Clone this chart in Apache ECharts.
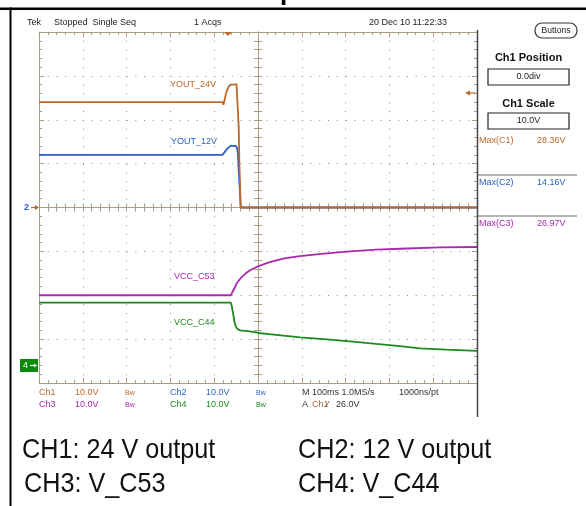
<!DOCTYPE html>
<html>
<head>
<meta charset="utf-8">
<script src="https://cdn.jsdelivr.net/npm/echarts@6/dist/echarts.min.js"></script>
<style>
html, body { margin: 0; padding: 0; background: #fff; }
#scope { width: 586px; height: 506px; }
</style>
</head>
<body>
<div id="scope"></div>
<script>
// scope capture, time in ms from screen centre, values in volts
var ch1Time = [-500, -81, -79, -76, -73, -70, -67, -63, -60, -57, -53, -49, -47.3, -44, -42.7, -39.5, 500];
var ch1Volt = [24.0, 24.0, 23.4, 24.6, 26.0, 26.9, 27.5, 28.0, 28.4, 28.0, 28.3, 28.1, 28.0, 18.3, 10.7, 0, 0];

var ch2Time = [-500, -81, -78, -75, -71, -67, -62, -56, -51, -48, -46, -45, -43, -41, -39.5, 500];
var ch2Volt = [12.0, 12.0, 12.3, 12.8, 13.3, 13.7, 14.1, 14.0, 14.1, 13.6, 12.5, 10.1, 6.5, 3.2, 0, 0];

var ch3Time = [-500, -62, -59, -56, -52, -48, -42, -37, -28, -18, 0, 20, 35, 60, 96, 150, 210, 270, 324, 416, 500];
var ch3Volt = [16.0, 16.0, 16.6, 17.2, 18.0, 18.8, 19.6, 20.2, 21.0, 21.7, 22.6, 23.3, 23.8, 24.4, 24.9, 25.5, 26.0, 26.4, 26.6, 26.9, 27.0];

var ch4Time = [-500, -62, -60, -58, -56, -54, -52, -50, -47, -41, -18, 1, 20, 58, 96, 150, 210, 270, 324, 370, 430, 500];
var ch4Volt = [14.3, 14.3, 13.6, 12.4, 11.4, 10.0, 9.3, 8.8, 8.3, 8.0, 7.75, 7.4, 7.2, 6.8, 6.4, 6.0, 5.5, 4.9, 4.4, 3.9, 3.6, 3.3];

var traceNames = ['YOUT_24V', 'YOUT_12V', 'VCC_C53', 'VCC_C44'];
var maxLabels = ['Max(C1)', 'Max(C2)', 'Max(C3)'];
var maxValues = ['28.36V', '14.16V', '26.97V'];

var ORANGE = '#b9692c';
var BLUE = '#2b62c4';
var MAGENTA = '#aa28b0';
var GREEN = '#1d8a1d';
var GRAT = '#a89f83';
var DOT = '#8e8a7e';
var F9 = '9px "Liberation Sans", Arial, sans-serif';
var F7 = '7px "Liberation Sans", Arial, sans-serif';
var FB = 'bold 11px "Liberation Sans", Arial, sans-serif';
var FCAP = '28px "Liberation Sans", Arial, sans-serif';

function zip(t, v) {
  return t.map(function (x, i) { return [x, v[i]]; });
}

function xAx(pos, onZero, inside, len, minorLen, split) {
  return {
    type: 'value', min: -500, max: 500, interval: 100, position: pos,
    axisLine: { show: true, onZero: onZero, onZeroAxisIndex: 0, lineStyle: { color: GRAT, width: 1 } },
    axisTick: { show: true, inside: inside, length: len, lineStyle: { color: GRAT } },
    minorTick: { show: true, splitNumber: 5, length: minorLen, lineStyle: { color: GRAT } },
    axisLabel: { show: false },
    splitLine: { show: split, lineStyle: { color: DOT, width: 1, type: [1, 7.78] } }
  };
}
function yAx(pos, onZero, inside, len, minorLen, split) {
  return {
    type: 'value', min: -40, max: 40, interval: 10, position: pos,
    axisLine: { show: true, onZero: onZero, onZeroAxisIndex: 0, lineStyle: { color: GRAT, width: 1 } },
    axisTick: { show: true, inside: inside, length: len, lineStyle: { color: GRAT } },
    minorTick: { show: true, splitNumber: 5, length: minorLen, lineStyle: { color: GRAT } },
    axisLabel: { show: false },
    splitLine: { show: split, lineStyle: { color: DOT, width: 1, type: [1, 7.76] } }
  };
}

function trace(data, color, yIdx) {
  return {
    type: 'line', data: data, xAxisIndex: 0, yAxisIndex: yIdx,
    symbol: 'none', showSymbol: false, silent: true,
    lineStyle: { color: color, width: 1.8 }, itemStyle: { color: color }
  };
}

function txt(x, y, s, color, font, align) {
  return {
    type: 'text', x: x, y: y, silent: true, z: 100,
    style: {
      text: s, fill: color || '#222', font: font || F9,
      textAlign: align || 'left', align: align || 'left',
      textVerticalAlign: 'middle', verticalAlign: 'middle'
    }
  };
}
function seg(x1, y1, x2, y2, color, w) {
  return { type: 'line', silent: true, z: 100, shape: { x1: x1, y1: y1, x2: x2, y2: y2 }, style: { stroke: color, lineWidth: w || 1 } };
}
function tri(pts, color) {
  return { type: 'polygon', silent: true, z: 100, shape: { points: pts }, style: { fill: color } };
}
function box(x, y, w, h, stroke, fill, r) {
  return { type: 'rect', silent: true, z: 99, shape: { x: x, y: y, width: w, height: h, r: r || 0 }, style: { stroke: stroke, fill: fill || 'none', lineWidth: 1.2 } };
}
function caption(x, y, s) {
  var t = txt(x, y, s, '#111', FCAP);
  t.scaleX = 0.9;
  return t;
}

var graphics = [
  // frame of the figure
  { type: 'rect', silent: true, z: 100, shape: { x: 0, y: 7.5, width: 586, height: 2.5 }, style: { fill: '#000' } },
  { type: 'rect', silent: true, z: 100, shape: { x: 9.5, y: 7.5, width: 2, height: 499 }, style: { fill: '#000' } },
  { type: 'text', x: 280, y: 6, silent: true, style: { text: 'p', fill: '#000', font: 'bold 26px "Liberation Sans", Arial, sans-serif', verticalAlign: 'bottom', textVerticalAlign: 'bottom' } },

  // status line
  txt(27, 23, 'Tek'),
  txt(54, 23, 'Stopped  Single Seq'),
  txt(194, 23, '1 Acqs'),
  txt(369, 23, '20 Dec 10 11:22:33'),
  tri([[224, 32], [232, 32], [228, 36]], ORANGE),

  // side panel
  box(535, 23, 42, 15, '#333', '#fff', 7),
  txt(556, 30.5, 'Buttons', '#222', '8.5px "Liberation Sans", Arial, sans-serif', 'center'),
  txt(528.5, 58, 'Ch1 Position', '#111', FB, 'center'),
  box(488, 69, 81, 16, '#222'),
  txt(528.5, 77, '0.0div', '#222', F9, 'center'),
  txt(528.5, 104, 'Ch1 Scale', '#111', FB, 'center'),
  box(488, 113, 81, 16, '#222'),
  txt(528.5, 121, '10.0V', '#222', F9, 'center'),
  txt(479, 141, maxLabels[0], ORANGE), txt(537, 141, maxValues[0], ORANGE),
  seg(477, 175, 577, 175, '#9a9a9a', 1.5),
  txt(479, 183, maxLabels[1], BLUE), txt(537, 183, maxValues[1], BLUE),
  seg(477, 216, 577, 216, '#9a9a9a', 1.5),
  txt(479, 224, maxLabels[2], MAGENTA), txt(537, 224, maxValues[2], MAGENTA),
  seg(477.5, 30, 477.5, 417, '#444', 1.5),

  // trigger level arrow (right)
  seg(469, 93, 475, 93, ORANGE, 1.2),
  tri([[465, 93], [470, 90.5], [470, 95.5]], ORANGE),

  // ground markers (left)
  txt(24, 207.5, '2', BLUE, 'bold 9px "Liberation Sans", Arial, sans-serif'),
  seg(31, 207.5, 36, 207.5, ORANGE, 1.2),
  tri([[35, 205], [39, 207.5], [35, 210]], ORANGE),
  box(20, 359, 18, 13, 'none', '#0b8a0b'),
  txt(23, 365.5, '4', '#fff', F9),
  seg(30, 365.5, 35, 365.5, '#fff', 1.2),
  tri([[34, 363.5], [37, 365.5], [34, 367.5]], '#fff'),

  // trace labels
  txt(170, 85, traceNames[0], ORANGE),
  txt(171, 142, traceNames[1], BLUE),
  txt(174, 277, traceNames[2], MAGENTA),
  txt(174, 323, traceNames[3], GREEN),

  // channel readouts
  txt(39, 393, 'Ch1', ORANGE), txt(75, 393, '10.0V', ORANGE), txt(125, 393, 'Bw', ORANGE, F7),
  txt(170, 393, 'Ch2', BLUE), txt(206, 393, '10.0V', BLUE), txt(256, 393, 'Bw', BLUE, F7),
  txt(302, 393, 'M 100ms 1.0MS/s', '#333'), txt(399, 393, '1000ns/pt', '#333'),
  txt(39, 405, 'Ch3', MAGENTA), txt(75, 405, '10.0V', MAGENTA), txt(125, 405, 'Bw', MAGENTA, F7),
  txt(170, 405, 'Ch4', GREEN), txt(206, 405, '10.0V', GREEN), txt(256, 405, 'Bw', GREEN, F7),
  txt(302, 405, 'A', '#333'), txt(312, 405, 'Ch1', ORANGE), txt(327, 405, '\u2044', '#333'), txt(336, 405, '26.0V', '#333'),

  // captions
  caption(22, 450, 'CH1: 24 V output'),
  caption(298, 450, 'CH2: 12 V output'),
  caption(24, 484, 'CH3: V_C53'),
  caption(298, 484, 'CH4: V_C44')
];

var chart = echarts.init(document.getElementById('scope'), null, { renderer: 'canvas' });
var option = {
  backgroundColor: '#fff',
  animation: false,
  grid: { left: 39, top: 32, width: 438, height: 351, containLabel: false },
  xAxis: [
    xAx('bottom', false, true, 5, 3, true),
    xAx('top', false, true, 5, 3, false),
    xAx('bottom', true, true, 4, 4, false),
    xAx('bottom', true, false, 4, 4, false)
  ],
  yAxis: [
    yAx('left', false, true, 5, 3, true),
    yAx('right', false, true, 5, 3, false),
    yAx('left', true, true, 4, 4, false),
    yAx('left', true, false, 4, 4, false),
    { type: 'value', min: -4, max: 76, show: false }
  ],
  series: [
    trace(zip(ch2Time, ch2Volt), BLUE, 0),
    trace(zip(ch1Time, ch1Volt), ORANGE, 0),
    trace(zip(ch3Time, ch3Volt), MAGENTA, 4),
    trace(zip(ch4Time, ch4Volt), GREEN, 4)
  ],
  graphic: graphics
};
chart.setOption(option);
</script>
</body>
</html>
